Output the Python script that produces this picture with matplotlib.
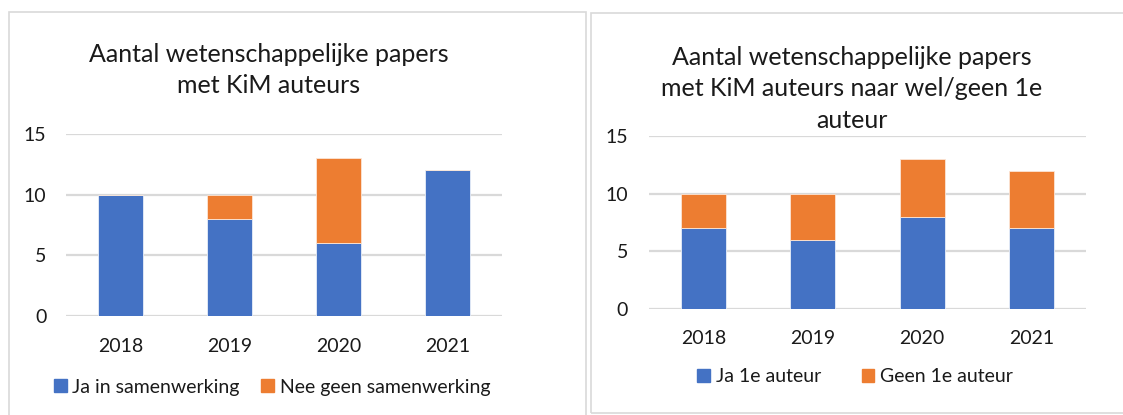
import matplotlib
matplotlib.use("Agg")
import matplotlib.pyplot as plt
from matplotlib.patches import Rectangle, Patch

plt.rcParams["font.family"] = ["Lato", "DejaVu Sans"]

years = ["2018", "2019", "2020", "2021"]

# left chart: samenwerking
ja_samen = [10, 8, 6, 12]
nee_samen = [0, 2, 7, 0]

# right chart: 1e auteur
ja_eerste = [7, 6, 8, 7]
geen_eerste = [3, 4, 5, 5]

BLUE = "#4472C4"
ORANGE = "#ED7D31"
GRID = "#D9D9D9"
TXT = "#1a1a1a"

W, H = 1123, 415
fig = plt.figure(figsize=(W / 100, H / 100), dpi=100)


def px_rect(x0, y0, x1, y1):
    # pixel box (top-left origin) -> figure fraction rect
    return [x0 / W, 1 - y1 / H, (x1 - x0) / W, (y1 - y0) / H]


def draw_panel(rect, bottom_vals, top_vals, ypad, xpad):
    ax = fig.add_axes(rect)
    x = range(len(years))
    ax.bar(x, bottom_vals, width=0.41, color=BLUE, edgecolor="#E8EEF8", linewidth=0.6, zorder=3)
    ax.bar(x, top_vals, width=0.41, bottom=bottom_vals, color=ORANGE, edgecolor="#FBE5D6",
           linewidth=0.6, zorder=3)
    ax.set_xlim(-0.5, len(years) - 0.5)
    ax.set_ylim(0, 15)
    ax.set_yticks([0, 5, 10, 15])
    ax.set_xticks(list(x))
    ax.set_xticklabels(years)
    ax.yaxis.grid(True, color=GRID, linewidth=1.6, zorder=0)
    ax.set_axisbelow(True)
    for s in ax.spines.values():
        s.set_visible(False)
    ax.tick_params(axis="both", length=0, labelsize=14, colors=TXT)
    ax.tick_params(axis="y", pad=ypad)
    ax.tick_params(axis="x", pad=xpad)
    return ax


# panel frames
fig.patches.append(Rectangle((9 / W, -0.1), (586 - 9) / W, 1.1 - 12 / H,
                             transform=fig.transFigure, fill=False,
                             edgecolor=GRID, linewidth=1.2))
fig.patches.append(Rectangle((591 / W, 1 - 413 / H), 0.6, (413 - 13) / H,
                             transform=fig.transFigure, fill=False,
                             edgecolor=GRID, linewidth=1.2))

ax1 = draw_panel(px_rect(66, 134, 502, 316), ja_samen, nee_samen, 14, 16)
ax2 = draw_panel(px_rect(649, 136, 1086, 309), ja_eerste, geen_eerste, 15, 15)

fig.text(269 / W, 1 - 70 / H, "Aantal wetenschappelijke papers\nmet KiM auteurs",
         ha="center", va="center", fontsize=18, color=TXT, linespacing=1.42)
fig.text(852 / W, 1 - 89 / H,
         "Aantal wetenschappelijke papers\nmet KiM auteurs naar wel/geen 1e\nauteur",
         ha="center", va="center", fontsize=18, color=TXT, linespacing=1.46)

leg_kw = dict(loc="center", ncol=2, frameon=False, fontsize=14, handlelength=0.65,
              handleheight=0.65, handletextpad=0.3, labelcolor=TXT)
fig.legend(handles=[Patch(color=BLUE), Patch(color=ORANGE)],
           labels=["Ja in samenwerking", "Nee geen samenwerking"],
           bbox_to_anchor=(272 / W, 1 - 387 / H), columnspacing=1.1, **leg_kw)
fig.legend(handles=[Patch(color=BLUE), Patch(color=ORANGE)],
           labels=["Ja 1e auteur", "Geen 1e auteur"],
           bbox_to_anchor=(855 / W, 1 - 377 / H), columnspacing=2.1, **leg_kw)

fig.savefig("out.png", dpi=100, facecolor="white")
